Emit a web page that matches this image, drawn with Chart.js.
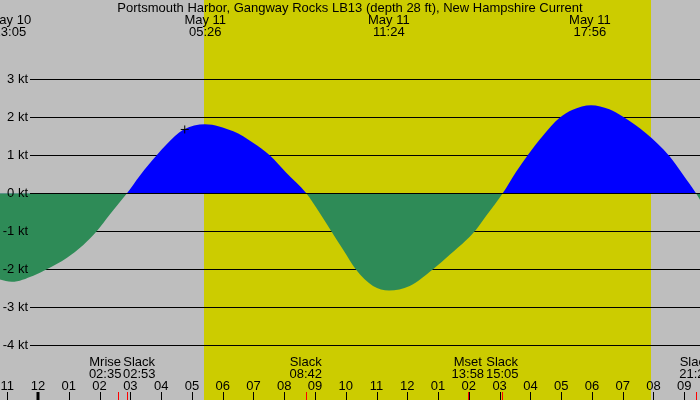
<!DOCTYPE html>
<html>
<head>
<meta charset="utf-8">
<script src="https://cdn.jsdelivr.net/npm/chart.js@4/dist/chart.umd.min.js"></script>
<style>
  html, body { margin: 0; padding: 0; background: #bebebe; }
  canvas { display: block; }
</style>
</head>
<body>
<canvas id="tideChart" width="700" height="400"></canvas>
<script>
// hours since May 11 00:00
var flowTimes = [-1.237, -0.857, -0.155, 0.280, 0.930, 1.470, 1.905, 2.338, 2.890, 3.313,
    3.855, 4.180, 4.720, 5.425, 6.345, 6.985, 7.528, 8.067, 8.717, 9.153,
    9.530, 9.910, 10.323, 10.885, 11.405, 12.078, 12.835, 13.378, 13.917, 14.233,
    14.558, 15.100, 15.532, 15.912, 16.400, 16.940, 17.375, 17.970, 18.565, 19.000,
    19.757, 20.515, 20.950, 21.382, 21.512];
var flowSpeeds = [-2.27, -2.33, -2.17, -2.00, -1.70, -1.36, -1.00, -0.55, 0, 0.47,
    1.00, 1.29, 1.67, 1.82, 1.63, 1.33, 1.00, 0.54, 0, -0.52,
    -1.00, -1.48, -2.00, -2.44, -2.56, -2.44, -2.00, -1.62, -1.23, -0.96,
    -0.60, 0, 0.56, 1.00, 1.51, 1.98, 2.20, 2.32, 2.21, 2.02,
    1.58, 0.98, 0.50, 0, -0.17];

var speedTicks = [3, 2, 1, 0, -1, -2, -3, -4];

var peakDays = ['May 10', 'May 11', 'May 11', 'May 11'];
var peakTimes = ['23:05', '05:26', '11:24', '17:56'];

var eventNames = ['Mrise', 'Slack', 'Slack', 'Mset', 'Slack', 'Slack'];
var eventTimes = ['02:35', '02:53', '08:42', '13:58', '15:05', '21:22'];

var sunTimes = ['05:24', '19:55'];
var markerTime = '04:46';
var markerSpeed = 1.68;

var title = 'Portsmouth Harbor, Gangway Rocks LB13 (depth 28 ft), New Hampshire Current';

var startHour = -1.237;
var endHour = 21.512;
var FONT = '13px "Liberation Sans", Arial, sans-serif';

function toHours(hhmm, day){
    var p = hhmm.split(':');
    var h = parseInt(p[0], 10) + parseInt(p[1], 10) / 60;
    if(day == 'May 10') h -= 24;
    return h;
}

var decorPlugin = {
    id: 'decor',
    beforeDraw: function(chart){
        var ctx = chart.ctx;
        var x = chart.scales.x;
        ctx.save();
        ctx.fillStyle = '#bebebe';
        ctx.fillRect(0, 0, chart.width, chart.height);
        var x0 = x.getPixelForValue(toHours(sunTimes[0]));
        var x1 = x.getPixelForValue(toHours(sunTimes[1]));
        ctx.fillStyle = '#cccc00';
        ctx.fillRect(Math.round(x0), 0, Math.round(x1) - Math.round(x0), chart.height);
        ctx.restore();
    },
    beforeDatasetsDraw: function(chart){
        var ctx = chart.ctx;
        var y = chart.scales.y;
        ctx.save();
        ctx.strokeStyle = '#000';
        ctx.lineWidth = 1;
        speedTicks.forEach(function(v){
            if(v == 0) return;
            var py = Math.round(y.getPixelForValue(v)) + 0.5;
            ctx.beginPath();
            ctx.moveTo(30, py);
            ctx.lineTo(chart.width, py);
            ctx.stroke();
        });
        ctx.restore();
    },
    afterDatasetsDraw: function(chart){
        var ctx = chart.ctx;
        var x = chart.scales.x;
        var y = chart.scales.y;
        ctx.save();
        // zero line on top of the fill
        var pz = Math.round(y.getPixelForValue(0)) + 0.5;
        ctx.strokeStyle = '#000';
        ctx.lineWidth = 1;
        ctx.beginPath();
        ctx.moveTo(30, pz);
        ctx.lineTo(chart.width, pz);
        ctx.stroke();

        ctx.font = FONT;
        ctx.fillStyle = '#000';

        // speed labels
        ctx.textAlign = 'right';
        ctx.textBaseline = 'middle';
        speedTicks.forEach(function(v){
            ctx.fillText(v + ' kt', 28, Math.round(y.getPixelForValue(v)) + 0.5);
        });

        // title and peak labels
        ctx.textAlign = 'center';
        ctx.textBaseline = 'alphabetic';
        ctx.fillText(title, chart.width / 2, 12);
        peakTimes.forEach(function(t, i){
            var px = x.getPixelForValue(toHours(t, peakDays[i]));
            ctx.fillText(peakDays[i], px, 24);
            ctx.fillText(t, px, 36);
        });

        // event labels, pushed apart when they collide
        var evX = eventTimes.map(function(t){ return x.getPixelForValue(toHours(t)); });
        var pos = evX.slice();
        for(var i = 1; i < pos.length; i++){
            var w = (ctx.measureText(eventTimes[i - 1]).width + ctx.measureText(eventTimes[i]).width) / 2 + 1.5;
            var gap = pos[i] - pos[i - 1];
            if(gap < w){
                var d = (w - gap) / 2;
                pos[i - 1] -= d;
                pos[i] += d;
            }
        }
        eventTimes.forEach(function(t, i){
            ctx.fillText(eventNames[i], pos[i], 366);
            ctx.fillText(t, pos[i], 378);
        });

        // event ticks
        ctx.strokeStyle = '#ff0000';
        ctx.lineWidth = 1;
        evX.forEach(function(px){
            var rx = Math.round(px) + 0.5;
            ctx.beginPath();
            ctx.moveTo(rx, 392);
            ctx.lineTo(rx, 400);
            ctx.stroke();
        });

        // hour ticks
        ctx.strokeStyle = '#000';
        for(var h = Math.ceil(startHour); h <= endHour; h++){
            var hh = ((h % 24) + 24) % 24;
            var h12 = hh % 12 == 0 ? 12 : hh % 12;
            var lbl = (h12 < 10 ? '0' : '') + h12;
            var px = x.getPixelForValue(h);
            ctx.fillText(lbl, px, 390);
            ctx.lineWidth = hh == 0 ? 3 : 1;
            var rx = hh == 0 ? Math.round(px) : Math.round(px) + 0.5;
            ctx.beginPath();
            ctx.moveTo(rx, 392);
            ctx.lineTo(rx, 400);
            ctx.stroke();
        }
        ctx.restore();
    }
};

var flowData = flowTimes.map(function(t, i){ return {x: t, y: flowSpeeds[i]}; });

var chartCfg = {
    type: 'line',
    data: {
        datasets: [{
            label: 'Current',
            data: flowData,
            borderWidth: 0,
            borderColor: 'rgba(0,0,0,0)',
            pointRadius: 0,
            cubicInterpolationMode: 'monotone',
            order: 1,
            fill: {
                target: 'origin',
                above: '#0000ff',
                below: '#2e8b57'
            }
        }, {
            label: 'Marker',
            type: 'scatter',
            data: [{x: toHours(markerTime), y: markerSpeed}],
            pointStyle: 'cross',
            pointRadius: 4,
            borderColor: '#000',
            borderWidth: 1,
            backgroundColor: '#000',
            order: 0
        }]
    },
    options: {
        responsive: false,
        animation: false,
        layout: { padding: 0, autoPadding: false },
        plugins: {
            legend: { display: false },
            tooltip: { enabled: false }
        },
        scales: {
            x: { type: 'linear', min: startHour, max: endHour, display: false },
            y: { type: 'linear', min: -5.44, max: 5.087, display: false }
        }
    },
    plugins: [decorPlugin]
};

window.onload = function(){
    var ctx = document.getElementById('tideChart').getContext('2d');
    window.tideChart = new Chart(ctx, chartCfg);
};
</script>
</body>
</html>
